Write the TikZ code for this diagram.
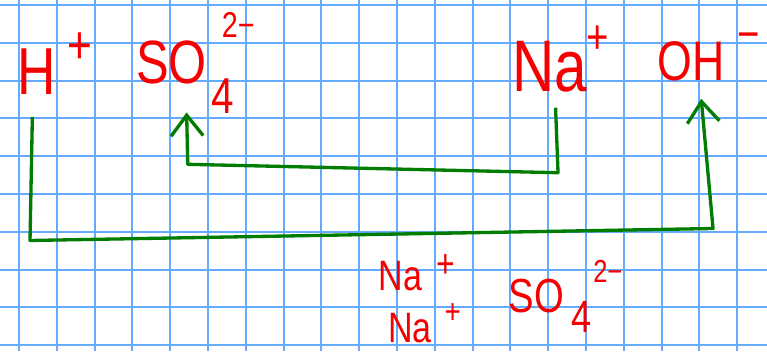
\documentclass[tikz,border=0pt]{standalone}
\usepackage{fontspec}
\setmainfont{Liberation Sans}[FakeStretch=0.8]
\usepackage{xcolor}
\usepackage{tikz}
\usetikzlibrary{arrows.meta,calc}

\definecolor{gridblue}{RGB}{100,170,255}
\definecolor{inkred}{RGB}{245,0,0}
\definecolor{inkgreen}{RGB}{0,125,0}

% index or charge set beside a symbol, node keeps the symbol's size
\newcommand{\ionpart}[4]{\rlap{\smash{\hspace*{#1}\raisebox{#2}{\fontsize{#3}{#3}\selectfont #4}}}}

\begin{document}
\begin{tikzpicture}[
  ion/.style={text=inkred, inner sep=0pt, anchor=base},
  sheet/.style={draw=gridblue, line width=1.5pt},
  arrow/.style={draw=inkgreen, line width=2.5pt, line join=round,
                -{Straight Barb[length=5.5mm, width=8.5mm]}}
]
% ---- Grid paper ----
\useasboundingbox (0,0) rectangle (20.29,9.286);
\fill[white] (0,0) rectangle (20.29,9.286);
\foreach \x in {0,...,19}
  \draw[sheet] (0.503+\x,0) -- (0.503+\x,9.286);
\foreach \y in {0,...,9}
  \draw[sheet] (0,0.154+\y) -- (20.29,0.154+\y);

% ---- Top row ----
\node[ion, font=\fontsize{50}{50}\selectfont] (hion) at (0.966,6.773)
  {H\ionpart{0.32cm}{0.82cm}{40}{+}};
\node[ion, font=\fontsize{46}{46}\selectfont] (so) at (4.537,7.064)
  {SO\ionpart{0.13cm}{-0.77cm}{38}{4}\ionpart{0.4cm}{1.22cm}{27}{2−}};
\node[ion, font=\fontsize{55}{55}\selectfont] (na) at (14.537,6.852)
  {Na\ionpart{0cm}{1.03cm}{36}{+}};
\node[ion, font=\fontsize{42}{42}\selectfont] (oh) at (18.28,7.143)
  {OH\ionpart{0.35cm}{0.8cm}{36}{−}};

% ---- Products ----
\node[ion, font=\fontsize{32}{32}\selectfont] (naone) at (10.595,1.588)
  {Na\ionpart{0.37cm}{0.37cm}{30}{+}};
\node[ion, font=\fontsize{32}{32}\selectfont] (natwo) at (10.847,0.22)
  {Na\ionpart{0.34cm}{0.5cm}{26}{+}};
\node[ion, font=\fontsize{36}{36}\selectfont] (sobot) at (14.193,1.032)
  {SO\ionpart{0.19cm}{-0.53cm}{34}{4}\ionpart{0.77cm}{0.77cm}{24}{2−}};

% ---- Exchange of partners ----
\coordinate (hbend) at (0.794,2.924);
\coordinate (ohbend) at (18.862,3.241);
\draw[arrow] ([xshift=-1.1mm,yshift=-5.7mm]hion.south) -- (hbend)
  -- (ohbend) -- ([xshift=2.7mm,yshift=-4.5mm]oh.south);

\coordinate (nabend) at (14.762,4.717);
\coordinate (sobend) at (4.966,4.939);
\draw[arrow] ([xshift=1.6mm,yshift=-3.9mm]na.south) -- (nabend)
  -- (sobend) -- ([xshift=4mm,yshift=-7.3mm]so.south);
\end{tikzpicture}
\end{document}
